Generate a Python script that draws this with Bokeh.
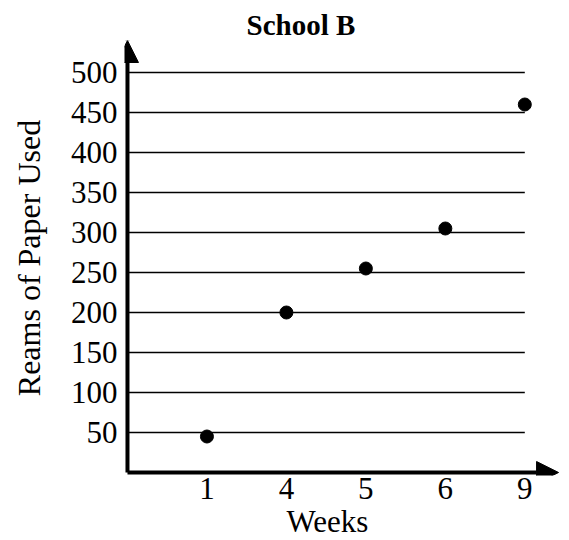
from bokeh.plotting import figure
from bokeh.models import Range1d, FixedTicker, Arrow, NormalHead, Title
from bokeh.embed import file_html
from bokeh.resources import INLINE

weeks = ["1", "4", "5", "6", "9"]
reams = [45, 200, 255, 305, 460]
y_ticks = [50, 100, 150, 200, 250, 300, 350, 400, 450, 500]
title_text = "School B"
x_label = "Weeks"
y_label = "Reams of Paper Used"

FONT = "Liberation Serif"
x_pos = list(range(1, len(weeks) + 1))

p = figure(width=569, height=540, output_backend="svg", toolbar_location=None,
           x_range=Range1d(-3 / 80, 445 / 80), y_range=Range1d(-3.75, 540),
           min_border_left=124, min_border_right=0, min_border_top=40, min_border_bottom=65)
p.outline_line_color = None
p.grid.visible = False
p.background_fill_color = "white"

# horizontal grid lines across the week span
p.segment(x0=[0] * len(y_ticks), y0=y_ticks, x1=[len(weeks)] * len(y_ticks), y1=y_ticks,
          line_color="black", line_width=1.5)

# axes with arrows
p.add_layout(Arrow(x_start=0, y_start=0, x_end=0, y_end=540, line_width=4, line_color="black",
                   end=NormalHead(size=22, fill_color="black", line_color="black", line_width=1)))
p.add_layout(Arrow(x_start=0, y_start=0, x_end=5.425, y_end=0, line_width=4, line_color="black",
                   end=NormalHead(size=22, fill_color="black", line_color="black", line_width=1)))

p.scatter(x=x_pos, y=reams, size=13, color="black")

ya = p.yaxis[0]
ya.ticker = FixedTicker(ticks=y_ticks)
ya.axis_line_color = None
ya.major_tick_line_color = None
ya.minor_tick_line_color = None
ya.major_tick_out = 0
ya.major_label_standoff = 7
ya.major_label_text_font = FONT
ya.major_label_text_font_size = "31px"
ya.major_label_text_color = "black"
ya.axis_label = y_label
ya.axis_label_text_font = FONT
ya.axis_label_text_font_size = "32px"
ya.axis_label_text_font_style = "normal"
ya.axis_label_text_color = "black"
ya.axis_label_standoff = 21

xa = p.xaxis[0]
xa.ticker = FixedTicker(ticks=x_pos)
xa.major_label_overrides = {i: w for i, w in zip(x_pos, weeks)}
xa.axis_line_color = None
xa.major_tick_line_color = None
xa.minor_tick_line_color = None
xa.major_tick_out = 0
xa.major_label_standoff = 2
xa.major_label_text_font = FONT
xa.major_label_text_font_size = "31px"
xa.major_label_text_color = "black"

p.add_layout(Title(text=x_label, align="left", offset=162, standoff=0,
                   text_font=FONT, text_font_size="31px", text_font_style="normal",
                   text_color="black"), "below")
p.add_layout(Title(text=title_text, align="left", offset=122, standoff=0,
                   text_font=FONT, text_font_size="29px", text_font_style="bold",
                   text_color="black"), "above")

open("out.html", "w").write(file_html(p, INLINE))
